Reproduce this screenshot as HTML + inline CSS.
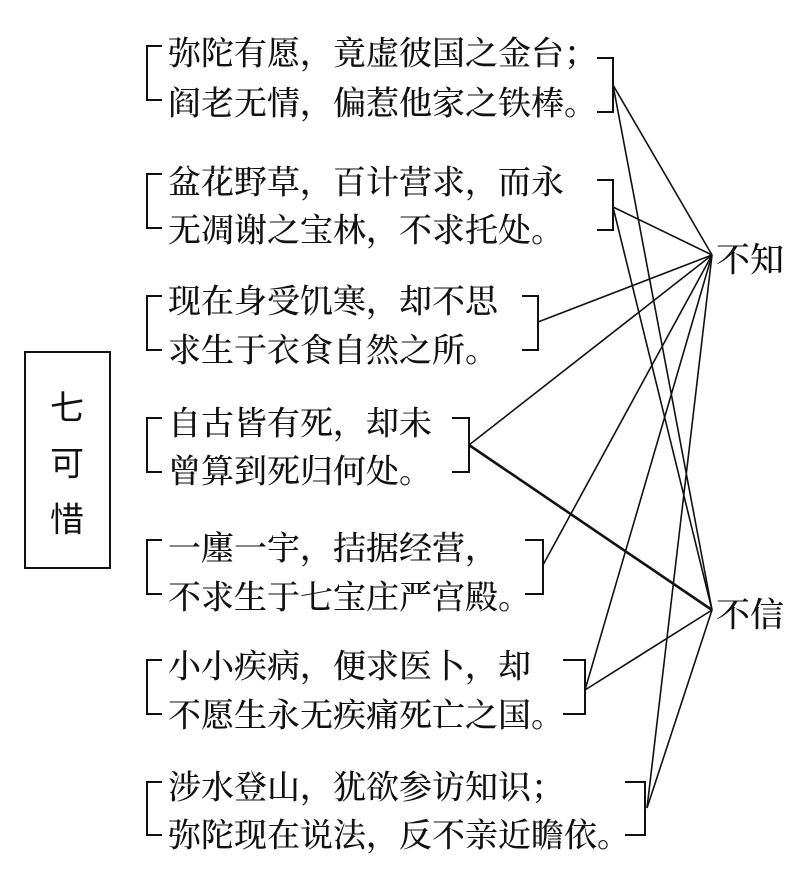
<!DOCTYPE html>
<html><head><meta charset="utf-8"><style>
html,body{margin:0;padding:0;background:#fff;}
svg{display:block;}
.t{font-family:"Noto Serif CJK SC","Noto Serif CJK JP","Liberation Serif",serif;font-size:33px;fill:#111;font-weight:500;}
.s{font-family:"Noto Sans CJK SC","Liberation Sans",sans-serif;font-size:34px;fill:#111;}
</style></head><body>
<svg width="810" height="883" viewBox="0 0 810 883" xmlns="http://www.w3.org/2000/svg">
<g fill="none" stroke="#111" stroke-width="2">
<rect x="25" y="352" width="85" height="216"/>
<path d="M162 46H147V100H162"/>
<path d="M162 174H147V228H162"/>
<path d="M162 296H147V350H162"/>
<path d="M162 418H147V472H162"/>
<path d="M162 540H147V594H162"/>
<path d="M162 660H147V714H162"/>
<path d="M162 782H147V835H162"/>
<path d="M597 58H613V112H597"/>
<path d="M597 180H613V230H597"/>
<path d="M522 296H538V350H522"/>
<path d="M452 418H469V472H452"/>
<path d="M525 540H543V594H525"/>
<path d="M563 660H585V714H563"/>
<path d="M625 782H645V835H625"/>
</g>
<g stroke="#111" stroke-width="1.6" fill="none">
<line x1="613" y1="85" x2="712" y2="255"/>
<line x1="613" y1="85" x2="712" y2="610"/>
<line x1="613" y1="207" x2="712" y2="255"/>
<line x1="613" y1="207" x2="712" y2="610"/>
<line x1="538" y1="322" x2="712" y2="255"/>
<line x1="469" y1="445" x2="712" y2="255"/>
<line x1="469" y1="445" x2="712" y2="610" stroke-width="2.6"/>
<line x1="543" y1="565" x2="712" y2="255"/>
<line x1="585" y1="690" x2="712" y2="255"/>
<line x1="585" y1="690" x2="712" y2="610"/>
<line x1="647" y1="808" x2="712" y2="255"/>
<line x1="647" y1="808" x2="712" y2="610"/>
</g>
<g class="t" dominant-baseline="central">
<text x="168" y="51">弥陀有愿，竟虚彼国之金台；</text>
<text x="168" y="101">阎老无情，偏惹他家之铁棒。</text>
<text x="168" y="180">盆花野草，百计营求，而永</text>
<text x="168" y="228">无凋谢之宝林，不求托处。</text>
<text x="168" y="299">现在身受饥寒，却不思</text>
<text x="168" y="348">求生于衣食自然之所。</text>
<text x="168" y="421">自古皆有死，却未</text>
<text x="168" y="469">曾算到死归何处。</text>
<text x="168" y="546">一廛一宇，拮据经营，</text>
<text x="168" y="595">不求生于七宝庄严宫殿。</text>
<text x="168" y="664">小小疾病，便求医卜，却</text>
<text x="168" y="713">不愿生永无疾痛死亡之国。</text>
<text x="168" y="785">涉水登山，犹欲参访知识；</text>
<text x="168" y="833">弥陀现在说法，反不亲近瞻依。</text>
<text x="716" y="257" font-size="34">不知</text>
<text x="716" y="612" font-size="34">不信</text>
</g>
<g class="s" text-anchor="middle" dominant-baseline="central">
<text x="67" y="405">七</text>
<text x="67" y="461">可</text>
<text x="67" y="517">惜</text>
</g>
</svg>
</body></html>
